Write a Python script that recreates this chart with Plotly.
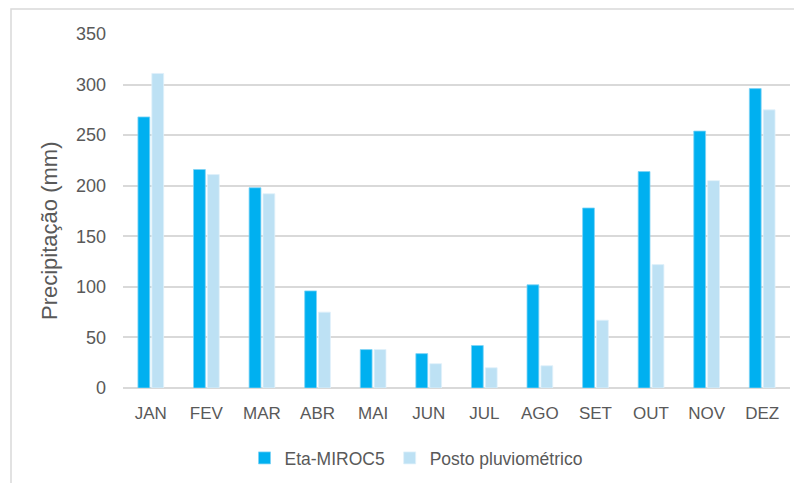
import plotly.graph_objects as go

months = ["JAN", "FEV", "MAR", "ABR", "MAI", "JUN", "JUL", "AGO", "SET", "OUT", "NOV", "DEZ"]
eta_miroc5 = [268, 216, 198, 96, 38, 34, 42, 102, 178, 214, 254, 296]
posto = [311, 211, 192, 75, 38, 24, 20, 22, 67, 122, 205, 275]
y_ticks = [0, 50, 100, 150, 200, 250, 300, 350]

W, H = 802, 483
OFF = 8  # page body margin offset
L, R, T, B = 123 - OFF, 20, 34 - OFF, 483 - (388 - OFF)
pw, ph = W - L - R, H - T - B

fig = go.Figure()
fig.add_trace(go.Bar(x=months, y=eta_miroc5, name="Eta-MIROC5",
                     marker=dict(color="#00B0F0", line=dict(color="#7fd3f5", width=0.8))))
fig.add_trace(go.Bar(x=months, y=posto, name="Posto pluviométrico",
                     marker=dict(color="#BDE1F4", line=dict(color="#dff0fa", width=0.8))))

def px_x(p):
    return (p - OFF - L) / pw

def px_y(p):
    return (H - B - (p - OFF)) / ph

fig.update_layout(
    width=W, height=H,
    margin=dict(l=L, r=R, t=T, b=B, autoexpand=False),
    paper_bgcolor="white", plot_bgcolor="white",
    barmode="group", bargap=0.5, bargroupgap=0.15,
    font=dict(family="Liberation Sans, Arial, sans-serif", size=17, color="#595959"),
    showlegend=True,
    legend=dict(orientation="h", xref="container", yref="container",
                x=(416 - OFF) / W, y=(H - (458 - OFF)) / H, xanchor="center", yanchor="middle",
                font=dict(size=17.5, color="#595959", family="Liberation Sans, Arial, sans-serif"),
                traceorder="normal"),
    xaxis=dict(showgrid=False, showline=False, ticks="", automargin=False,
               tickfont=dict(size=17, color="#595959"), ticklabelstandoff=13),
    yaxis=dict(range=[0, 350], tickvals=y_ticks, showgrid=True, gridcolor="#d9d9d9", gridwidth=1.5,
               zeroline=True, zerolinecolor="#d9d9d9", zerolinewidth=1.5, showline=False,
               automargin=False,
               tickfont=dict(size=18, color="#595959"), ticklabelstandoff=16),
    annotations=[dict(text="Precipitação (mm)", textangle=-90, xref="paper", yref="paper",
                      x=px_x(50), y=px_y(231), xanchor="center", yanchor="middle",
                      showarrow=False, font=dict(size=22, color="#595959"))],
    shapes=[dict(type="rect", xref="paper", yref="paper",
                 x0=px_x(11), x1=px_x(830), y0=px_y(510), y1=px_y(9),
                 line=dict(color="#d9d9d9", width=1.5), layer="below")],
)

fig.write_html("out.html")
